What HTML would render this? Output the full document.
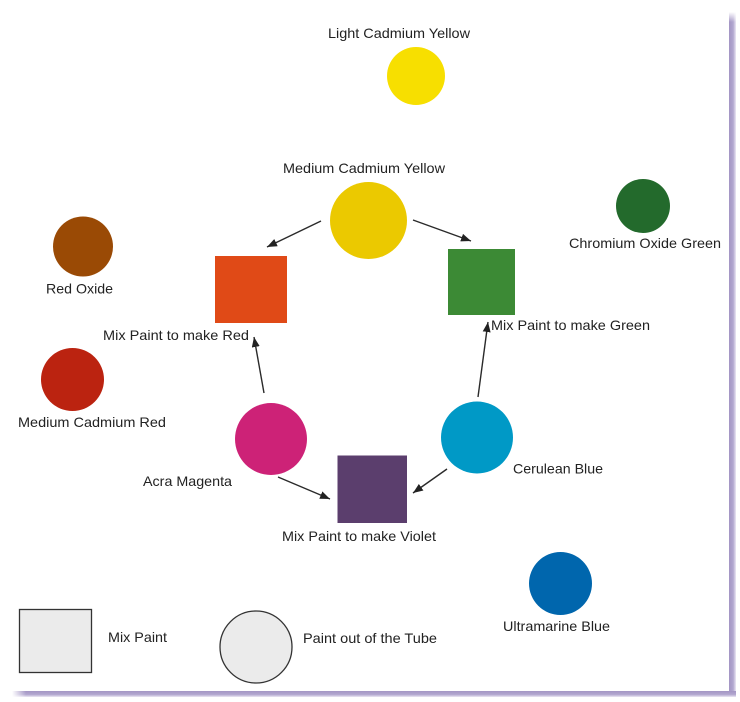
<!DOCTYPE html>
<html>
<head>
<meta charset="utf-8">
<style>
html,body{margin:0;padding:0;background:#fff;}
body{width:740px;height:702px;overflow:hidden;}
svg{display:block;}
text{font-family:"Liberation Sans",Arial,sans-serif;font-size:14px;fill:#222;}
</style>
</head>
<body>
<svg width="740" height="702" viewBox="0 0 740 702" xmlns="http://www.w3.org/2000/svg">
  <defs>
    <linearGradient id="gr" x1="0" y1="0" x2="1" y2="0">
      <stop offset="0" stop-color="#a395c4"/>
      <stop offset="0.6" stop-color="#b3a8d0"/>
      <stop offset="1" stop-color="#ece8f4"/>
    </linearGradient>
    <linearGradient id="gb" x1="0" y1="0" x2="0" y2="1">
      <stop offset="0" stop-color="#a395c4"/>
      <stop offset="0.6" stop-color="#b3a8d0"/>
      <stop offset="1" stop-color="#ece8f4"/>
    </linearGradient>
    <linearGradient id="grTop" x1="0" y1="0" x2="0" y2="1">
      <stop offset="0" stop-color="#fff" stop-opacity="1"/>
      <stop offset="1" stop-color="#fff" stop-opacity="0"/>
    </linearGradient>
    <linearGradient id="gbLeft" x1="0" y1="0" x2="1" y2="0">
      <stop offset="0" stop-color="#fff" stop-opacity="1"/>
      <stop offset="1" stop-color="#fff" stop-opacity="0"/>
    </linearGradient>
    <marker id="ah" markerWidth="10" markerHeight="8" refX="10" refY="4" orient="auto" markerUnits="userSpaceOnUse">
      <path d="M0,0 L10,4 L0,8 Z" fill="#222"/>
    </marker>
  </defs>

  <!-- frame shadow -->
  <rect x="729" y="12" width="7" height="685" fill="url(#gr)"/>
  <rect x="729" y="12" width="7" height="10" fill="url(#grTop)"/>
  <rect x="12" y="691" width="724" height="6" fill="url(#gb)"/>
  <rect x="12" y="691" width="14" height="6" fill="url(#gbLeft)"/>

  <!-- connectors -->
  <g stroke="#2a2a2a" stroke-width="1.4" fill="none" marker-end="url(#ah)">
    <line x1="321" y1="221" x2="267" y2="247"/>
    <line x1="413" y1="220" x2="471" y2="241"/>
    <line x1="264" y1="393" x2="254" y2="337"/>
    <line x1="478" y1="397" x2="488" y2="322"/>
    <line x1="278" y1="477" x2="330" y2="499"/>
    <line x1="447" y1="469" x2="413" y2="493"/>
  </g>

  <!-- circles -->
  <circle cx="416" cy="76" r="29" fill="#f7df00"/>
  <circle cx="368.5" cy="220.5" r="38.5" fill="#ebc900"/>
  <circle cx="83" cy="246.5" r="30" fill="#9a4a05"/>
  <circle cx="643" cy="206" r="27" fill="#236a2c"/>
  <circle cx="72.5" cy="379.5" r="31.5" fill="#bb2310"/>
  <circle cx="271" cy="439" r="36" fill="#cd2277"/>
  <circle cx="477" cy="437.5" r="36" fill="#0099c6"/>
  <circle cx="560.5" cy="583.5" r="31.5" fill="#0066ad"/>

  <!-- squares -->
  <rect x="215" y="256" width="72" height="67" fill="#e04a17"/>
  <rect x="448" y="249" width="67" height="66" fill="#3c8a35"/>
  <rect x="337.5" y="455.5" width="69.5" height="67.5" fill="#5b3e6d"/>

  <!-- legend -->
  <rect x="19.5" y="609.5" width="72" height="63" fill="#ebebeb" stroke="#333" stroke-width="1.3"/>
  <circle cx="256" cy="647" r="36" fill="#ebebeb" stroke="#333" stroke-width="1.3"/>

  <!-- labels -->
  <text x="328" y="38" textLength="142" lengthAdjust="spacingAndGlyphs">Light Cadmium Yellow</text>
  <text x="283" y="173" textLength="162" lengthAdjust="spacingAndGlyphs">Medium Cadmium Yellow</text>
  <text x="46" y="293.5" textLength="67" lengthAdjust="spacingAndGlyphs">Red Oxide</text>
  <text x="103" y="340" textLength="146" lengthAdjust="spacingAndGlyphs">Mix Paint to make Red</text>
  <text x="569" y="248" textLength="152" lengthAdjust="spacingAndGlyphs">Chromium Oxide Green</text>
  <text x="491" y="330" textLength="159" lengthAdjust="spacingAndGlyphs">Mix Paint to make Green</text>
  <text x="18" y="427" textLength="148" lengthAdjust="spacingAndGlyphs">Medium Cadmium Red</text>
  <text x="143" y="486" textLength="89" lengthAdjust="spacingAndGlyphs">Acra Magenta</text>
  <text x="513" y="473.5" textLength="90" lengthAdjust="spacingAndGlyphs">Cerulean Blue</text>
  <text x="282" y="541" textLength="154" lengthAdjust="spacingAndGlyphs">Mix Paint to make Violet</text>
  <text x="503" y="631" textLength="107" lengthAdjust="spacingAndGlyphs">Ultramarine Blue</text>
  <text x="108" y="642" textLength="59" lengthAdjust="spacingAndGlyphs">Mix Paint</text>
  <text x="303" y="643" textLength="134" lengthAdjust="spacingAndGlyphs">Paint out of the Tube</text>
</svg>
</body>
</html>
